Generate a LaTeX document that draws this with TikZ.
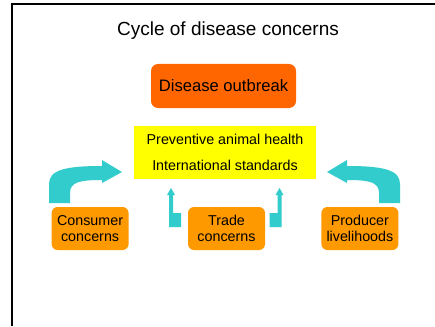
\documentclass[tikz,border=0pt]{standalone}
\usepackage{fontspec}
\setmainfont{Liberation Sans}
\definecolor{dcred}{RGB}{255,102,0}
\definecolor{dcamber}{RGB}{255,153,0}
\definecolor{dcyellow}{RGB}{255,255,0}
\definecolor{dccyan}{RGB}{51,204,204}
\usetikzlibrary{positioning}

\begin{document}
\begin{tikzpicture}[x=1pt,y=-1pt,
  concern/.style={fill=dcamber,rounded corners=6pt,inner sep=0pt,minimum width=77pt,minimum height=43pt,align=center,font=\fontsize{14.3}{16.7}\selectfont},
  blockarrow/.style={fill=dccyan}]
  \useasboundingbox (0,0) rectangle (435,326);
  \fill[white] (0,0) rectangle (435,326);
  \draw[line width=2pt] (12,326) -- (12,4) -- (435,4);
  \node (title) at (228,31) {\fontsize{19}{23}\selectfont Cycle of disease concerns};
  \node[fill=dcred,rounded corners=7pt,inner sep=0pt,minimum width=145pt,minimum height=44pt,font=\fontsize{16.6}{20}\selectfont] (outbreak) at (223.5,86) {Disease outbreak};
  \node[fill=dcyellow,inner sep=0pt,minimum width=182pt,minimum height=53pt,align=center,font=\fontsize{14.3}{25.3}\selectfont] (standards) at (225,152.5) {Preventive animal health\\International standards};
  \node[concern] (trade) at (226.5,228.5) {Trade\\concerns};
  \node[concern,left=59pt of trade] (consumer) {Consumer\\concerns};
  \node[concern,right=56pt of trade] (producer) {Producer\\livelihoods};
  % curved arrows into the standards box
  \fill[blockarrow] (49,203) -- (49,184) .. controls (49,170) and (65,166) .. (102,166) -- (102,160) -- (122,172) -- (102,183) -- (102,180) .. controls (80,180) and (70,182) .. (70,193) -- (70,203) -- cycle;
  \fill[blockarrow] (400,203) -- (400,184) .. controls (400,170) and (384,166) .. (347,166) -- (347,160) -- (327,172) -- (347,183) -- (347,180) .. controls (369,180) and (379,182) .. (379,193) -- (379,203) -- cycle;
  % small arrows beside trade
  \fill[blockarrow] (169,227) -- (169,195) -- (167,195) -- (171,188) -- (175,195) -- (173,195) -- (173,213) -- (181,213) -- (181,227) -- cycle;
  \fill[blockarrow] (281.5,227) -- (281.5,195) -- (283.5,195) -- (279.5,188) -- (275.5,195) -- (277.5,195) -- (277.5,213) -- (269.5,213) -- (269.5,227) -- cycle;
\end{tikzpicture}
\end{document}
